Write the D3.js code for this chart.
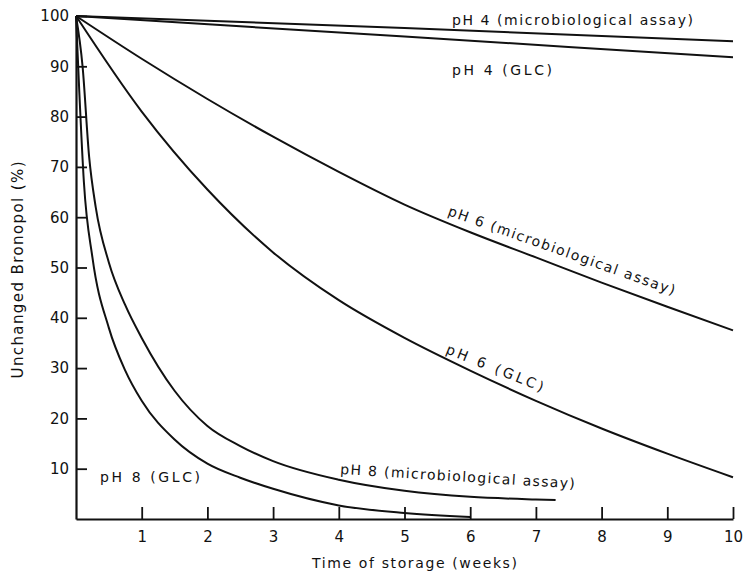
<!DOCTYPE html>
<html>
<head>
<meta charset="utf-8">
<script src="https://cdn.jsdelivr.net/npm/d3@7"></script>
<style>
  body { margin: 0; background: #fff; }
  svg text { font-family: "DejaVu Sans", sans-serif; fill: #111; }
</style>
</head>
<body>
<svg id="chart" width="745" height="578"></svg>
<script>
// values (weeks -> % unchanged bronopol)
const weeksPh4 = [0, 5, 10];
const ph4Micro = [100, 97.6, 95];
const ph4Glc = [100, 95.9, 91.8];

const weeksPh6 = [0, 1, 2, 3, 4, 5, 6, 7, 8, 9, 10];
const ph6Micro = [100, 91.5, 83.5, 76, 69, 62.5, 57, 52, 47, 42.2, 37.5];
const ph6Glc = [100, 81, 65.5, 53, 43.5, 36, 29.5, 23.5, 18, 13, 8.3];

const weeksPh8Micro = [0, 0.1, 0.2, 0.3, 0.5, 0.75, 1, 1.5, 2, 2.5, 3, 4, 5, 6, 7, 7.3];
const ph8Micro = [100, 90, 72, 62, 51, 42.5, 36, 25.5, 18.5, 14.5, 11.5, 7.8, 5.6, 4.4, 3.9, 3.8];

const weeksPh8Glc = [0, 0.05, 0.12, 0.25, 0.5, 0.75, 1, 1.5, 2, 2.5, 3, 4, 5, 6];
const ph8Glc = [100, 85, 67, 52, 38, 29.5, 23.5, 15.8, 11, 8.2, 6, 2.7, 1.2, 0.4];

const xTicks = [1, 2, 3, 4, 5, 6, 7, 8, 9, 10];
const yTicks = [10, 20, 30, 40, 50, 60, 70, 80, 90, 100];

const svg = d3.select('#chart');
const x = d3.scaleLinear().domain([0, 10]).range([76, 733]);
const y = d3.scaleLinear().domain([0, 100]).range([519, 16]);

// axes - ticks point inwards
const xAxis = svg.append('g')
    .attr('transform', `translate(0,${y(0)})`)
    .call(d3.axisBottom(x).tickValues(xTicks).tickFormat(d3.format('d'))
        .tickSizeInner(-12).tickSizeOuter(0).tickPadding(12));
const yAxis = svg.append('g')
    .attr('transform', `translate(${x(0)},0)`)
    .call(d3.axisLeft(y).tickValues(yTicks).tickFormat(d3.format('d'))
        .tickSizeInner(-11).tickSizeOuter(0).tickPadding(7));

[xAxis, yAxis].forEach(function(g) {
    g.attr('font-family', '"DejaVu Sans", sans-serif').attr('font-size', 15);
    g.select('.domain').attr('stroke', '#111').attr('stroke-width', 2.2);
    g.selectAll('.tick line').attr('stroke', '#111').attr('stroke-width', 1.8);
    g.selectAll('.tick text').attr('fill', '#111');
});

// curves
const line = d3.line()
    .x(function(d) { return x(d[0]); })
    .y(function(d) { return y(d[1]); })
    .curve(d3.curveMonotoneX);

const series = [
    [weeksPh4, ph4Micro],
    [weeksPh4, ph4Glc],
    [weeksPh6, ph6Micro],
    [weeksPh6, ph6Glc],
    [weeksPh8Micro, ph8Micro],
    [weeksPh8Glc, ph8Glc]
];
series.forEach(function(s) {
    svg.append('path')
        .datum(d3.zip(s[0], s[1]))
        .attr('d', line)
        .attr('fill', 'none')
        .attr('stroke', '#111')
        .attr('stroke-width', 2);
});

// curve labels (x, y, angle, width)
const labels = [
    {t: 'pH 4 (microbiological assay)', x: 452, y: 25, a: 0, w: 241},
    {t: 'pH 4 (GLC)', x: 452, y: 75, a: 0, w: 100},
    {t: 'pH 6 (microbiological assay)', x: 447, y: 215, a: 19.5, w: 240},
    {t: 'pH 6 (GLC)', x: 445, y: 353, a: 22, w: 104},
    {t: 'pH 8 (microbiological assay)', x: 340, y: 474, a: 3.5, w: 235},
    {t: 'pH 8 (GLC)', x: 100, y: 482, a: 0, w: 100}
];
labels.forEach(function(l) {
    svg.append('text')
        .attr('transform', `translate(${l.x},${l.y}) rotate(${l.a})`)
        .attr('font-size', 14)
        .attr('textLength', l.w)
        .attr('lengthAdjust', 'spacing')
        .text(l.t);
});

// axis titles
svg.append('text')
    .attr('x', (312 + 517) / 2).attr('y', 568)
    .attr('text-anchor', 'middle')
    .attr('font-size', 14)
    .attr('textLength', 205).attr('lengthAdjust', 'spacing')
    .text('Time of storage (weeks)');

svg.append('text')
    .attr('transform', 'translate(23,270) rotate(-90)')
    .attr('text-anchor', 'middle')
    .attr('font-size', 15)
    .attr('textLength', 217).attr('lengthAdjust', 'spacing')
    .text('Unchanged Bronopol (%)');
</script>
</body>
</html>
